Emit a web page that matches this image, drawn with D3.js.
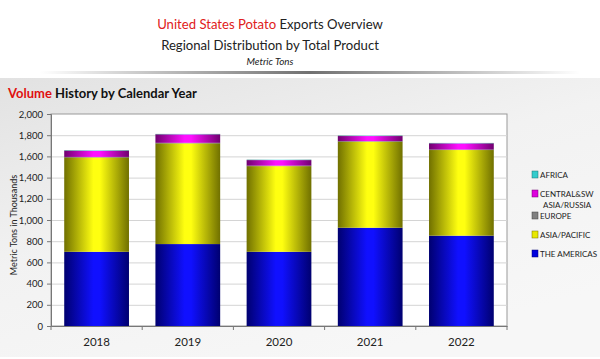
<!DOCTYPE html>
<html><head><meta charset="utf-8">
<script src="https://cdn.jsdelivr.net/npm/d3@7"></script>
<style>body{margin:0;background:#fff}svg{display:block}</style>
</head><body>
<svg id="c" width="600" height="359"></svg>
<script>
const years = ["2018","2019","2020","2021","2022"];
const seriesNames = ["THE AMERICAS","ASIA/PACIFIC","EUROPE","CENTRAL&SW ASIA/RUSSIA","AFRICA"];
const americas = [700, 773, 700, 927, 852];
const asiaPacific = [890, 950, 808, 812, 808];
const europe = [5, 5, 5, 5, 5];
const centralSW = [58, 80, 52, 48, 58];
const africa = [5, 4, 4, 4, 4];
const yTicks = [0,200,400,600,800,1000,1200,1400,1600,1800,2000];

const seriesVals = [americas, asiaPacific, europe, centralSW, africa];
const colors = [
  {edge:"#000070", mid:"#1010ff", sw:"#0000dd"},
  {edge:"#707000", mid:"#ffff10", sw:"#e8e800"},
  {edge:"#404040", mid:"#909090", sw:"#808080"},
  {edge:"#700070", mid:"#ff10ff", sw:"#dd00dd"},
  {edge:"#207070", mid:"#60e0e0", sw:"#33cccc"}
];
const FONT = "Lato, Open Sans, sans-serif";

const svg = d3.select("#c");
const defs = svg.append("defs");
colors.forEach((c,i)=>{
  const g = defs.append("linearGradient").attr("id","g"+i).attr("x1","0").attr("x2","1").attr("y1","0").attr("y2","0");
  g.append("stop").attr("offset","0").attr("stop-color",c.edge);
  g.append("stop").attr("offset","0.45").attr("stop-color",c.mid);
  g.append("stop").attr("offset","0.55").attr("stop-color",c.mid);
  g.append("stop").attr("offset","1").attr("stop-color",c.edge);
});
const bg = defs.append("linearGradient").attr("id","bg").attr("x1","0").attr("x2","0.6").attr("y1","0").attr("y2","1");
bg.append("stop").attr("offset","0").attr("stop-color","#e2e2e2");
bg.append("stop").attr("offset","0.5").attr("stop-color","#f2f2f2");
bg.append("stop").attr("offset","1").attr("stop-color","#f7f7f7");
const sep = defs.append("linearGradient").attr("id","sep").attr("x1","0").attr("x2","1");
sep.append("stop").attr("offset","0").attr("stop-color","#ffffff");
sep.append("stop").attr("offset","0.5").attr("stop-color","#707070");
sep.append("stop").attr("offset","1").attr("stop-color","#ffffff");

svg.append("rect").attr("x",0).attr("y",0).attr("width",600).attr("height",359).attr("fill","#fff");

// two-colour line fitted to a target width
function twoTone(parts, cx, left, yb, size, target, weight, style){
  const els = parts.map(p => svg.append("text").attr("y",yb).attr("font-family",FONT)
    .attr("font-size",size).attr("font-weight",weight||"normal").attr("font-style",style||"normal")
    .attr("fill",p.c).attr("xml:space","preserve").text(p.t));
  let w = els.reduce((s,e)=>s+e.node().getComputedTextLength(),0);
  const s2 = size*target/w;
  els.forEach(e=>e.attr("font-size",s2));
  w = els.reduce((s,e)=>s+e.node().getComputedTextLength(),0);
  let xx = (cx!=null) ? cx - w/2 : left;
  els.forEach(e=>{e.attr("x",xx); xx += e.node().getComputedTextLength();});
}
twoTone([{t:"United States Potato",c:"#e02020"},{t:"\u00a0Exports Overview",c:"#222"}],270,null,29,16,226);
twoTone([{t:"Regional Distribution by Total Product",c:"#222"}],270,null,50,16,218);
twoTone([{t:"Metric Tons",c:"#222"}],270,null,65,10,47,"normal","italic");
svg.append("rect").attr("x",40).attr("y",71).attr("width",540).attr("height",3).attr("fill","url(#sep)");

// Panel
svg.append("rect").attr("x",0).attr("y",78).attr("width",600).attr("height",279).attr("fill","url(#bg)");
twoTone([{t:"Volume",c:"#e01010"},{t:"\u00a0History by Calendar Year",c:"#111"}],null,8,98,14,189,"bold");

const m = {l:51, r:507, t:114, b:326};
const x = d3.scaleBand().domain(years).range([m.l, m.r]).paddingInner(0.29).paddingOuter(0.145);
const y = d3.scaleLinear().domain([0,2000]).range([m.b, m.t]);

svg.append("rect").attr("x",m.l).attr("y",m.t).attr("width",m.r-m.l).attr("height",m.b-m.t)
  .attr("fill","#fff").attr("stroke","#999").attr("stroke-width",1);
svg.append("g").selectAll("line").data(yTicks.slice(1,-1)).join("line")
  .attr("x1",m.l).attr("x2",m.r).attr("y1",d=>y(d)+0.5).attr("y2",d=>y(d)+0.5)
  .attr("stroke","#d4d4d4");

const data = years.map((yr,i)=>{const o={year:yr}; seriesNames.forEach((s,j)=>o[s]=seriesVals[j][i]); return o;});
const stack = d3.stack().keys(seriesNames)(data);
svg.append("g").selectAll("g").data(stack).join("g").attr("fill",(d,i)=>"url(#g"+i+")")
  .selectAll("rect").data(d=>d).join("rect")
  .attr("x",d=>x(d.data.year)).attr("width",x.bandwidth())
  .attr("y",d=>y(d[1])).attr("height",d=>y(d[0])-y(d[1]));

// Axes
const ya = d3.axisLeft(y).tickValues(yTicks).tickFormat(d3.format(",")).tickSize(4).tickPadding(4);
const yg = svg.append("g").attr("transform",`translate(${m.l},0)`).call(ya);
yg.select(".domain").attr("stroke","#777");
yg.selectAll(".tick line").attr("stroke","#777");
yg.selectAll("text").attr("font-family",FONT).attr("font-size",9.5).attr("fill","#222");

const xa = d3.axisBottom(x).tickSize(0).tickPadding(12);
const xg = svg.append("g").attr("transform",`translate(0,${m.b})`).call(xa);
xg.select(".domain").attr("stroke","#777");
xg.selectAll("text").attr("font-family",FONT).attr("font-size",11.5).attr("fill","#222");
const step = x.step();
svg.append("g").selectAll("line").data(d3.range(years.length+1)).join("line")
  .attr("x1",i=>m.l+i*step).attr("x2",i=>m.l+i*step).attr("y1",m.b).attr("y2",m.b+4).attr("stroke","#777");

svg.append("text").attr("transform",`translate(17,${(m.t+m.b)/2+5}) rotate(-90)`).attr("text-anchor","middle")
  .attr("font-family",FONT).attr("font-size",9).attr("fill","#222").text("Metric Tons in Thousands");

// Legend
const legendItems = [
  {i:4, lines:["AFRICA"], y:175},
  {i:3, lines:["CENTRAL&SW","ASIA/RUSSIA"], y:194},
  {i:2, lines:["EUROPE"], y:216},
  {i:1, lines:["ASIA/PACIFIC"], y:235},
  {i:0, lines:["THE AMERICAS"], y:254}
];
const lg = svg.append("g");
legendItems.forEach(it=>{
  lg.append("rect").attr("x",532).attr("y",it.y-4).attr("width",6).attr("height",7).attr("fill",colors[it.i].sw)
    .attr("stroke",colors[it.i].edge).attr("stroke-width",0.5);
  it.lines.forEach((ln,k)=>{
    lg.append("text").attr("x",k===0?540:543).attr("y",it.y+3+k*11).attr("font-family",FONT)
      .attr("font-size",8).attr("fill","#222").text(ln);
  });
});
</script>
</body></html>
